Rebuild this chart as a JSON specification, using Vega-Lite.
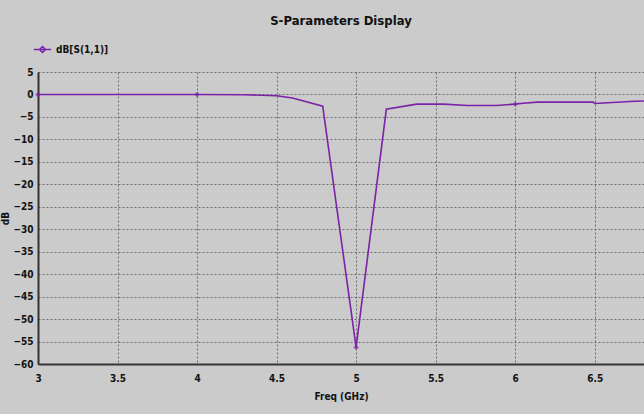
{
  "$schema": "https://vega.github.io/schema/vega-lite/v6.json",
  "autosize": "none",
  "width": 606,
  "height": 292,
  "padding": {"left": 38, "top": 72, "right": 0, "bottom": 50},
  "background": "#cbcbcb",
  "config": {
    "view": {"stroke": null, "fill": "#cbcbcb"},
    "font": "DejaVu Sans Condensed, Liberation Sans, sans-serif",
    "axis": {
      "labelFont": "DejaVu Sans Condensed, Liberation Sans, sans-serif", "labelFontWeight": "bold", "labelFontSize": 10, "labelColor": "#111",
      "titleFont": "DejaVu Sans Condensed, Liberation Sans, sans-serif", "titleFontWeight": "bold", "titleFontSize": 10, "titleColor": "#111",
      "gridColor": "#555", "gridDash": [2, 2], "gridOpacity": 0.8, "gridWidth": 1,
      "domainColor": "#333", "domainWidth": 2, "ticks": false, "labelOverlap": false
    }
  },
  "title": {"text": "S-Parameters Display", "font": "DejaVu Sans Condensed, Liberation Sans, sans-serif", "fontSize": 13, "fontWeight": "bold", "color": "#111", "offset": 12, "anchor": "middle"},
  "data": {"values": [
    {"f": 3.0, "db": 0.0, "s": "dB[S(1,1)]"},
    {"f": 3.5, "db": 0.0, "s": "dB[S(1,1)]"},
    {"f": 4.0, "db": 0.0, "s": "dB[S(1,1)]"},
    {"f": 4.3, "db": -0.05, "s": "dB[S(1,1)]"},
    {"f": 4.5, "db": -0.3, "s": "dB[S(1,1)]"},
    {"f": 4.6, "db": -0.8, "s": "dB[S(1,1)]"},
    {"f": 4.79, "db": -2.6, "s": "dB[S(1,1)]"},
    {"f": 5.0, "db": -56.3, "s": "dB[S(1,1)]"},
    {"f": 5.19, "db": -3.3, "s": "dB[S(1,1)]"},
    {"f": 5.38, "db": -2.15, "s": "dB[S(1,1)]"},
    {"f": 5.55, "db": -2.15, "s": "dB[S(1,1)]"},
    {"f": 5.7, "db": -2.45, "s": "dB[S(1,1)]"},
    {"f": 5.88, "db": -2.45, "s": "dB[S(1,1)]"},
    {"f": 6.0, "db": -2.15, "s": "dB[S(1,1)]"},
    {"f": 6.05, "db": -1.95, "s": "dB[S(1,1)]"},
    {"f": 6.14, "db": -1.7, "s": "dB[S(1,1)]"},
    {"f": 6.49, "db": -1.7, "s": "dB[S(1,1)]"},
    {"f": 6.5, "db": -2.0, "s": "dB[S(1,1)]"},
    {"f": 6.64, "db": -1.75, "s": "dB[S(1,1)]"},
    {"f": 6.75, "db": -1.5, "s": "dB[S(1,1)]"},
    {"f": 6.81, "db": -1.45, "s": "dB[S(1,1)]"}
  ]},
  "encoding": {
    "x": {"field": "f", "type": "quantitative", "scale": {"domain": [3, 6.81], "nice": false, "zero": false},
          "axis": {"values": [3, 3.5, 4, 4.5, 5, 5.5, 6, 6.5], "format": "~g", "title": "Freq (GHz)", "labelPadding": 9, "titlePadding": 8, "labelFlush": false}},
    "y": {"field": "db", "type": "quantitative", "scale": {"domain": [-60, 5], "nice": false},
          "axis": {"values": [5, 0, -5, -10, -15, -20, -25, -30, -35, -40, -45, -50, -55, -60], "format": "~g", "title": "dB", "labelPadding": 5, "titlePadding": 2}}
  },
  "layer": [
    {
      "mark": {"type": "line", "strokeWidth": 1.6, "clip": true},
      "encoding": {
        "color": {"field": "s", "type": "nominal", "scale": {"range": ["#7b22a8"]},
                  "legend": {"title": null, "orient": "none", "legendX": -5, "legendY": -32,
                             "symbolType": "M-1,0L1,0M0,-0.35L0.35,0L0,0.35L-0.35,0Z", "symbolSize": 300, "symbolStrokeWidth": 1.5,
                             "labelFont": "DejaVu Sans Condensed, Liberation Sans, sans-serif", "labelFontWeight": "bold", "labelFontSize": 10, "labelColor": "#111"}}
      }
    },
    {
      "transform": [{"filter": "datum.f == 3 || datum.f == 4 || datum.f == 5 || datum.f == 6"}],
      "mark": {"type": "point", "shape": "diamond", "filled": true, "size": 30, "color": "#7b22a8"}
    }
  ]
}
